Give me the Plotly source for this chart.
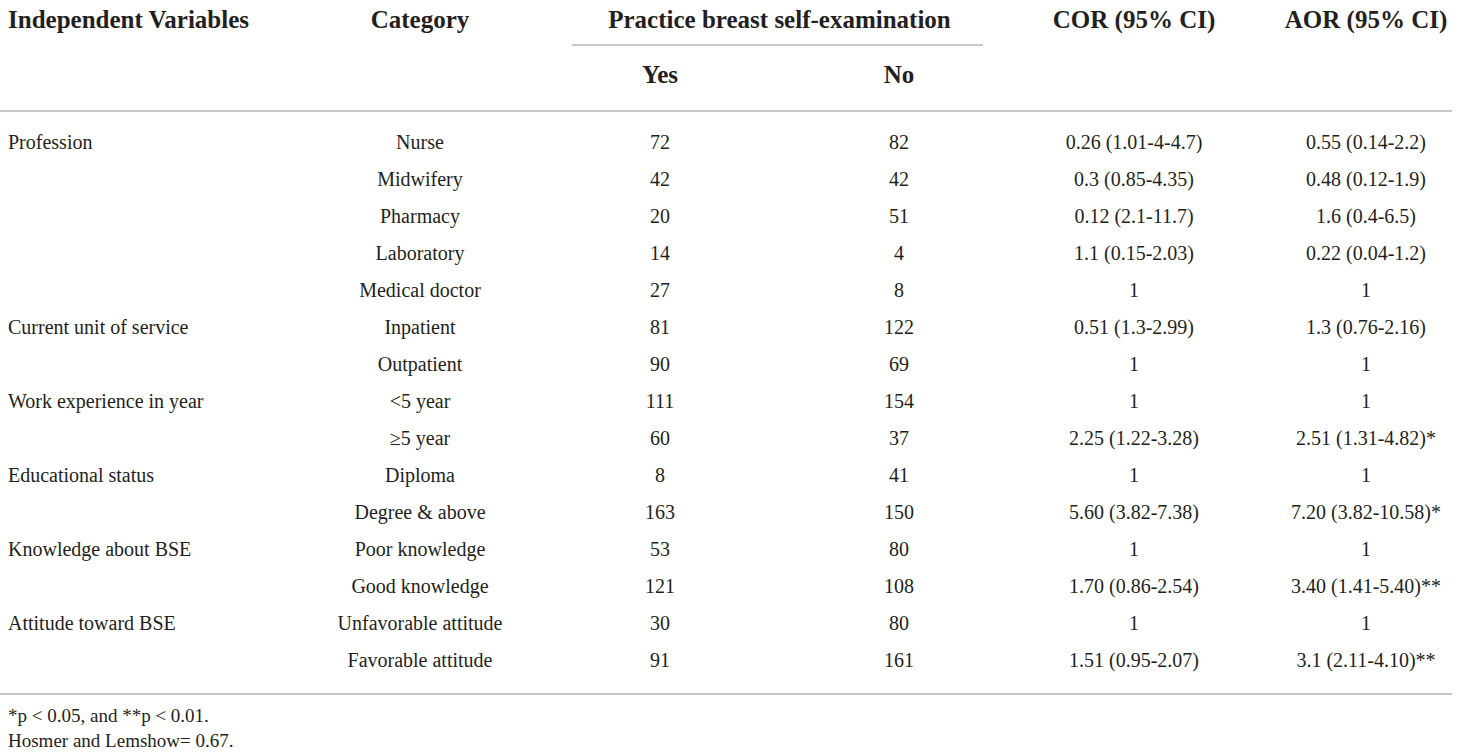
import plotly.graph_objects as go

# table content
variables = ["Profession", "Current unit of service", "Work experience in year",
             "Educational status", "Knowledge about BSE", "Attitude toward BSE"]
variable_rows = [0, 5, 7, 9, 11, 13]

categories = ["Nurse", "Midwifery", "Pharmacy", "Laboratory", "Medical doctor",
              "Inpatient", "Outpatient", "<5 year", "≥5 year", "Diploma",
              "Degree & above", "Poor knowledge", "Good knowledge",
              "Unfavorable attitude", "Favorable attitude"]
yes = [72, 42, 20, 14, 27, 81, 90, 111, 60, 8, 163, 53, 121, 30, 91]
no = [82, 42, 51, 4, 8, 122, 69, 154, 37, 41, 150, 80, 108, 80, 161]
cor = ["0.26 (1.01-4-4.7)", "0.3 (0.85-4.35)", "0.12 (2.1-11.7)", "1.1 (0.15-2.03)", "1",
       "0.51 (1.3-2.99)", "1", "1", "2.25 (1.22-3.28)", "1",
       "5.60 (3.82-7.38)", "1", "1.70 (0.86-2.54)", "1", "1.51 (0.95-2.07)"]
aor = ["0.55 (0.14-2.2)", "0.48 (0.12-1.9)", "1.6 (0.4-6.5)", "0.22 (0.04-1.2)", "1",
       "1.3 (0.76-2.16)", "1", "1", "2.51 (1.31-4.82)*", "1",
       "7.20 (3.82-10.58)*", "1", "3.40 (1.41-5.40)**", "1", "3.1 (2.11-4.10)**"]

headers = ["Independent Variables", "Category", "Practice breast self-examination",
           "COR (95% CI)", "AOR (95% CI)"]
subheaders = ["Yes", "No"]
footnotes = ["*p < 0.05, and **p < 0.01.", "Hosmer and Lemshow= 0.67."]

W, H = 1460, 756
FONT = "Liberation Serif"
COLOR = "#231f20"
LINE = "#c8c8c8"

# column / row placement in page pixels
x_var, x_cat, x_yes, x_no, x_cor, x_aor = 8, 420, 660, 899, 1134, 1366
x_practice = (x_yes + x_no) / 2
y_head, y_sub = 22, 77
y_first, dy = 144, 37
rows_y = [y_first + i * dy for i in range(len(categories))]

fig = go.Figure()


def text_trace(xs, ys, texts, pos="middle center", size=20, bold=False):
    fig.add_trace(go.Scatter(
        x=xs, y=ys, text=texts, mode="text",
        textposition=pos, cliponaxis=False,
        textfont=dict(family=FONT, size=size, color=COLOR,
                      weight="bold" if bold else "normal"),
        hoverinfo="skip", showlegend=False,
    ))


# headers
text_trace([x_var], [y_head], [headers[0]], pos="middle right", size=25, bold=True)
text_trace([x_cat, x_practice, x_cor, x_aor], [y_head] * 4, headers[1:], size=25, bold=True)
text_trace([x_yes, x_no], [y_sub] * 2, subheaders, size=25, bold=True)

# body
text_trace([x_var] * len(variables), [rows_y[r] for r in variable_rows], variables,
           pos="middle right")
text_trace([x_cat] * len(categories), rows_y, categories)
text_trace([x_yes] * len(yes), rows_y, [str(v) for v in yes])
text_trace([x_no] * len(no), rows_y, [str(v) for v in no])
text_trace([x_cor] * len(cor), rows_y, cor)
text_trace([x_aor] * len(aor), rows_y, aor)

# footnotes
text_trace([x_var] * 2, [717, 742], footnotes, pos="middle right", size=19)

# rules
for x0, x1, y in [(572, 983, 45), (0, 1452, 111), (0, 1452, 694)]:
    fig.add_shape(type="line", x0=x0, x1=x1, y0=y, y1=y,
                  line=dict(color=LINE, width=2), layer="below")

fig.update_xaxes(range=[0, W], visible=False, fixedrange=True)
fig.update_yaxes(range=[H, 0], visible=False, fixedrange=True)
fig.update_layout(width=W, height=H, margin=dict(l=0, r=0, t=0, b=0),
                  plot_bgcolor="white", paper_bgcolor="white", hovermode=False)

# drop the default page margin so the figure sits at the window corner
fig.write_html("out.html", config={"displayModeBar": False},
               post_script="document.body.style.margin='0';")
